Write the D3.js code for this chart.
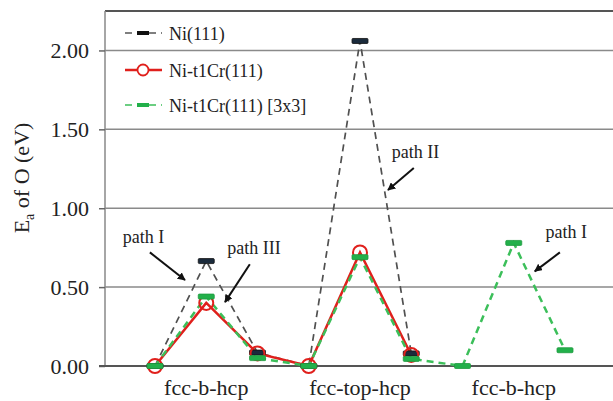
<!DOCTYPE html>
<html><head><meta charset="utf-8">
<script src="https://cdn.jsdelivr.net/npm/d3@7"></script>
<style>body{margin:0;background:#fff}svg{display:block}</style>
</head><body>
<script>
// ---- data ----
const pointIndex = [0,1,2,3,4,5,6,7,8];
const ni111 = [0, 0.665, 0.085, 0, 2.06, 0.08];
const niCr = [0, 0.40, 0.08, 0, 0.72, 0.07];
const niCr3x3 = [0, 0.44, 0.05, 0, 0.69, 0.045, 0, 0.78, 0.10];
const categories = ["fcc-b-hcp", "fcc-top-hcp", "fcc-b-hcp"];
const categoryAt = [1, 4, 7];
const yTicks = [0, 0.5, 1.0, 1.5, 2.0];
const seriesNames = ["Ni(111)", "Ni-t1Cr(111)", "Ni-t1Cr(111) [3x3]"];
const annoText = ["path I", "path III", "path II", "path I"];
const annoTextPos = [[-0.63, 0.78], [1.41, 0.71], [4.62, 1.32], [7.62, 0.81]];
const annoFrom = [[-0.1, 0.72], [1.85, 0.645], [5.05, 1.255], [7.9, 0.72]];
const annoTo = [[0.585, 0.545], [1.366, 0.405], [4.546, 1.115], [7.41, 0.60]];

(function () {
const W = 613, H = 401;
const svg = d3.select("body").append("svg").attr("width", W).attr("height", H);
const x = d3.scaleLinear().domain([0, 8]).range([155, 565]);
const y = d3.scaleLinear().domain([0, 2.25]).range([366, 11]);
const pL = 105, pR = 613, pT = 11, pB = 366;
const serif = "Liberation Serif, Times New Roman, serif";

// gridlines
svg.append("g").selectAll("line").data(yTicks.filter(d => d > 0)).join("line")
  .attr("x1", pL).attr("x2", pR).attr("y1", d => y(d)).attr("y2", d => y(d))
  .attr("stroke", "#8a8a8a").attr("stroke-width", 1.5);
// top border
svg.append("line").attr("x1", pL).attr("x2", pR).attr("y1", pT).attr("y2", pT)
  .attr("stroke", "#555").attr("stroke-width", 2);

// y axis
const yAxis = d3.axisLeft(y).tickValues(yTicks).tickFormat(d3.format(".2f")).tickSize(6).tickPadding(10);
const gy = svg.append("g").attr("transform", `translate(${pL},0)`).call(yAxis);
gy.attr("font-family", serif).attr("font-size", 22);
gy.select(".domain").attr("stroke", "#888").attr("stroke-width", 1.5).attr("d", `M0,${pT}V${pB}`);
gy.selectAll(".tick line").attr("stroke", "#666").attr("stroke-width", 1.5);
gy.selectAll(".tick text").style("font-family", serif).attr("font-size", 22).attr("fill", "#222");

// x axis line
svg.append("line").attr("x1", pL - 6).attr("x2", pR).attr("y1", pB).attr("y2", pB)
  .attr("stroke", "#555").attr("stroke-width", 2);

// category labels
svg.append("g").selectAll("text").data(categories).join("text")
  .attr("x", (d, i) => x(categoryAt[i])).attr("y", 395)
  .attr("text-anchor", "middle").style("font-family", serif).attr("font-size", 22).attr("fill", "#222")
  .text(d => d);

// y label
const yl = svg.append("text").attr("transform", "translate(29,178) rotate(-90)")
  .attr("text-anchor", "middle").style("font-family", serif).attr("font-size", 22).attr("fill", "#222");
yl.append("tspan").text("E");
yl.append("tspan").attr("font-size", 14).attr("dy", 5).text("a");
yl.append("tspan").attr("dy", -5).text(" of O (eV)");

const line = d3.line().x((d, i) => x(i)).y(d => y(d));

// series lines
svg.append("path").datum(ni111).attr("d", line).attr("fill", "none")
  .attr("stroke", "#505050").attr("stroke-width", 1.7).attr("stroke-dasharray", "7,5");
svg.append("path").datum(niCr).attr("d", line).attr("fill", "none")
  .attr("stroke", "#e0201c").attr("stroke-width", 2.5);
svg.append("path").datum(niCr3x3).attr("d", line).attr("fill", "none")
  .attr("stroke", "#3cbf5a").attr("stroke-width", 2.5).attr("stroke-dasharray", "7,5");

// markers
svg.append("g").selectAll("rect").data(ni111).join("rect")
  .attr("x", (d, i) => x(i) - 8).attr("y", d => y(d) - 2.5).attr("width", 16).attr("height", 5).attr("rx", 1)
  .attr("fill", "#1b2b3c").attr("stroke", "#111").attr("stroke-width", 0.8);
svg.append("g").selectAll("circle").data(niCr).join("circle")
  .attr("cx", (d, i) => x(i)).attr("cy", d => y(d)).attr("r", 7)
  .attr("fill", "none").attr("stroke", "#e0201c").attr("stroke-width", 2);
svg.append("g").selectAll("rect").data(niCr3x3).join("rect")
  .attr("x", (d, i) => x(i) - 8).attr("y", d => y(d) - 2.5).attr("width", 16).attr("height", 5).attr("rx", 1)
  .attr("fill", "#22b04a").attr("stroke", "#1f9a40").attr("stroke-width", 0.8);

// legend
const lg = svg.append("g");
const legY = [33, 70, 105];
lg.append("line").attr("x1", 125).attr("x2", 162).attr("y1", legY[0]).attr("y2", legY[0])
  .attr("stroke", "#555").attr("stroke-width", 1.6).attr("stroke-dasharray", "7,5");
lg.append("rect").attr("x", 137).attr("y", legY[0] - 2).attr("width", 12).attr("height", 4).attr("fill", "#111");
lg.append("line").attr("x1", 125).attr("x2", 162).attr("y1", legY[1]).attr("y2", legY[1])
  .attr("stroke", "#e0201c").attr("stroke-width", 2.4);
lg.append("circle").attr("cx", 143).attr("cy", legY[1]).attr("r", 5.5).attr("fill", "#fff")
  .attr("stroke", "#e0201c").attr("stroke-width", 1.8);
lg.append("line").attr("x1", 125).attr("x2", 162).attr("y1", legY[2]).attr("y2", legY[2])
  .attr("stroke", "#3cbf5a").attr("stroke-width", 1.6).attr("stroke-dasharray", "7,5");
lg.append("rect").attr("x", 137).attr("y", legY[2] - 2).attr("width", 12).attr("height", 4).attr("fill", "#22b04a");
lg.selectAll("text").data(seriesNames).join("text")
  .attr("x", 169).attr("y", (d, i) => legY[i] + 7)
  .style("font-family", serif).attr("font-size", 18).attr("fill", "#222").text(d => d);

// annotations
svg.append("defs").append("marker").attr("id", "ah").attr("viewBox", "0 0 10 10")
  .attr("refX", 9).attr("refY", 5).attr("markerWidth", 4).attr("markerHeight", 4).attr("orient", "auto")
  .append("path").attr("d", "M0,0L10,5L0,10z").attr("fill", "#111");
const ag = svg.append("g");
ag.selectAll("line").data(annoFrom).join("line")
  .attr("x1", d => x(d[0])).attr("y1", d => y(d[1]))
  .attr("x2", (d, i) => x(annoTo[i][0])).attr("y2", (d, i) => y(annoTo[i][1]))
  .attr("stroke", "#111").attr("stroke-width", 2).attr("marker-end", "url(#ah)");
ag.selectAll("text").data(annoText).join("text")
  .attr("x", (d, i) => x(annoTextPos[i][0])).attr("y", (d, i) => y(annoTextPos[i][1]))
  .style("font-family", serif).attr("font-size", 18).attr("fill", "#222").text(d => d);
})();
</script>
</body></html>
